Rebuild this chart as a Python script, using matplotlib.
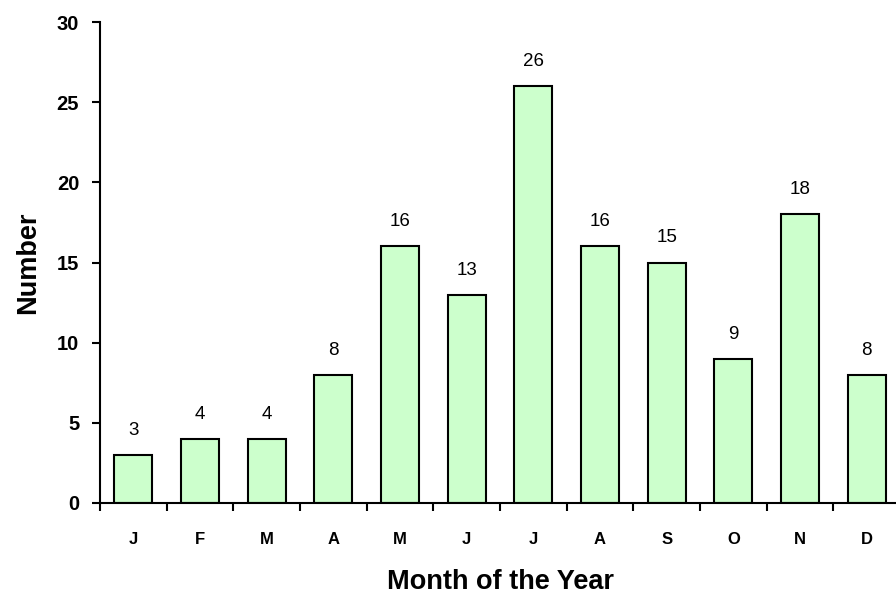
import matplotlib.pyplot as plt
import numpy as np

plt.rcParams['font.family'] = ['Liberation Sans', 'DejaVu Sans']

mesi = ["J", "F", "M", "A", "M", "J", "J", "A", "S", "O", "N", "D"]
numeri = [3, 4, 4, 8, 16, 13, 26, 16, 15, 9, 18, 8]

fig = plt.figure(figsize=(8.96, 5.95), dpi=100)
ax = fig.add_axes([100/896, 92/595, 800/896, 481/595])

x = np.arange(len(mesi))
ax.bar(x, numeri, width=0.57, color='#CCFFCC', edgecolor='black', linewidth=1.5)

# etichette sopra le barre
for xi, v in zip(x, numeri):
    ax.text(xi, v + 1.0, str(v), ha='center', va='bottom', fontsize=13.5)

ax.set_xlim(-0.5, 11.5)
ax.set_ylim(0, 30)
ax.set_yticks(range(0, 31, 5))
ax.set_xticks(x)
ax.set_xticklabels(mesi, fontweight='bold', fontsize=12)
ax.set_xticks(np.arange(-0.5, 12, 1), minor=True)
ax.tick_params(axis='x', which='major', length=0, pad=21)
ax.tick_params(axis='x', which='minor', length=6, width=1.5, direction='out')
ax.tick_params(axis='y', length=6, width=1.5, direction='out', labelsize=14.5, pad=9)
for lab in ax.get_yticklabels():
    lab.set_fontweight('bold')

ax.spines['top'].set_visible(False)
ax.spines['right'].set_visible(False)
ax.spines['left'].set_linewidth(1.5)
ax.spines['bottom'].set_linewidth(1.5)

ax.set_xlabel("Month of the Year", fontweight='bold', fontsize=19.5, labelpad=16)
ax.set_ylabel("Number", fontweight='bold', fontsize=19.5, labelpad=11)

fig.savefig("out.png", dpi=100)
